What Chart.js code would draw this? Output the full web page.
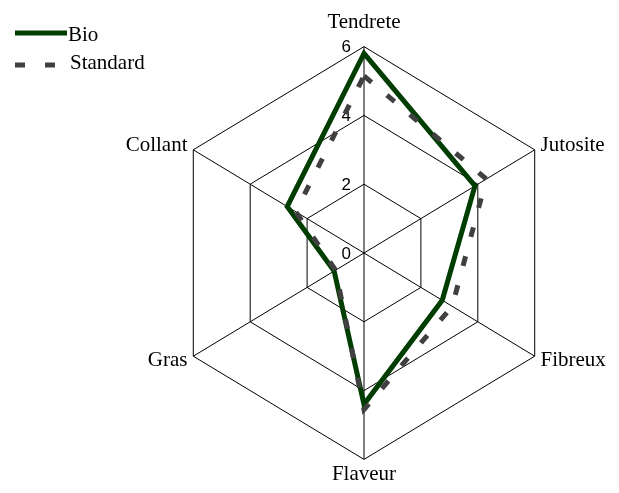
<!DOCTYPE html>
<html>
<head>
<meta charset="utf-8">
<script src="https://cdn.jsdelivr.net/npm/chart.js@4.4.1/dist/chart.umd.min.js"></script>
<style>
    body { margin: 0; background: #fff; }
    #wrap { width: 619px; height: 493px; }
</style>
</head>
<body>
<div id="wrap"><canvas id="radarChart"></canvas></div>
<script>
const axisLabels = ['Tendrete', 'Jutosite', 'Fibreux', 'Flaveur', 'Gras', 'Collant'];
const bioValues = [5.8, 3.9, 2.75, 4.4, 1.05, 2.7];
const standardValues = [5.15, 4.3, 3.1, 4.55, 1.0, 2.4];
const tickValues = [0, 2, 4, 6];
const tickLabels = ['0', '2', '4', '6'];

// the original hexagon is a bit narrower than it is tall
const X_SQUASH = 0.955;

const RadialScale = Chart.registry.getScale('radialLinear');
const origGetPointPosition = RadialScale.prototype.getPointPosition;
RadialScale.prototype.getPointPosition = function(index, distance, angle) {
    const p = origGetPointPosition.call(this, index, distance, angle);
    return { x: this.xCenter + (p.x - this.xCenter) * X_SQUASH, y: p.y, angle: p.angle };
};
// side labels fit anyway, so only let the top/bottom labels move the centre
const origSetCenterPoint = RadialScale.prototype.setCenterPoint;
RadialScale.prototype.setCenterPoint = function(left, right, top, bottom) {
    origSetCenterPoint.call(this, 0, 0, top, bottom);
};

// tick numbers sit left of the vertical axis
const tickLabelPlugin = {
    id: 'tickLabels',
    beforeDatasetsDraw(chart) {
        const scale = chart.scales.r;
        const ctx = chart.ctx;
        ctx.save();
        ctx.font = '17px "Liberation Sans"';
        ctx.fillStyle = '#000';
        ctx.textAlign = 'right';
        ctx.textBaseline = 'middle';
        tickValues.forEach((v, i) => {
            const y = scale.yCenter - scale.getDistanceFromCenterForValue(v);
            ctx.fillText(tickLabels[i], scale.xCenter - 13, y + 1);
        });
        ctx.restore();
    }
};

// legend stacked in the top left corner, outside the chart layout
const sideLegendPlugin = {
    id: 'sideLegend',
    afterDraw(chart) {
        const ctx = chart.ctx;
        const rows = [{ line: 33, text: 35 }, { line: 65, text: 63 }];
        chart.data.datasets.forEach((ds, i) => {
            ctx.save();
            ctx.strokeStyle = ds.borderColor;
            ctx.lineWidth = ds.borderWidth;
            ctx.setLineDash(ds.borderDash || []);
            ctx.beginPath();
            ctx.moveTo(15, rows[i].line);
            ctx.lineTo(67, rows[i].line);
            ctx.stroke();
            ctx.setLineDash([]);
            ctx.fillStyle = '#000';
            ctx.font = '21px "Liberation Serif"';
            ctx.textBaseline = 'middle';
            ctx.fillText(ds.label, i === 0 ? 68 : 70, rows[i].text);
            ctx.restore();
        });
    }
};

const ctx = document.getElementById('radarChart').getContext('2d');

new Chart(ctx, {
    type: 'radar',
    data: {
        labels: axisLabels,
        datasets: [{
            label: 'Bio',
            data: bioValues,
            borderColor: '#003d00',
            borderWidth: 5,
            fill: false,
            pointRadius: 0,
            order: 1
        }, {
            label: 'Standard',
            data: standardValues,
            borderColor: '#404040',
            borderWidth: 5,
            borderDash: [10, 20],
            fill: false,
            pointRadius: 0,
            order: 0
        }]
    },
    options: {
        responsive: true,
        maintainAspectRatio: false,
        animation: false,
        layout: {
            padding: { left: 109, top: 18, right: 0, bottom: 13 }
        },
        elements: { line: { tension: 0 } },
        plugins: {
            tooltip: { enabled: false },
            legend: { display: false }
        },
        scales: {
            r: {
                min: 0,
                max: 6,
                ticks: { stepSize: 2, display: false },
                grid: { color: '#000', lineWidth: 1 },
                angleLines: { color: '#000', lineWidth: 1 },
                pointLabels: {
                    color: '#000',
                    padding: (c) => c.index === 0 ? 23.6 : (c.index === 3 ? 14.7 : 7),
                    font: { family: 'Liberation Serif', size: 21, lineHeight: '1px' }
                }
            }
        }
    },
    plugins: [tickLabelPlugin, sideLegendPlugin]
});
</script>
</body>
</html>
